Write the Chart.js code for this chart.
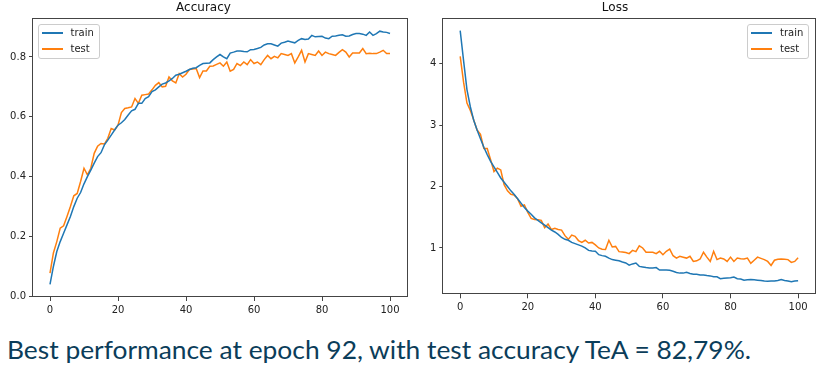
<!DOCTYPE html>
<html>
<head>
<meta charset="utf-8">
<script src="https://cdn.jsdelivr.net/npm/chart.js@4.4.0/dist/chart.umd.min.js"></script>
<style>
body { margin: 0; background: #fff; width: 830px; height: 370px; position: relative; overflow: hidden; }
.plot { position: absolute; top: 0; }
.legend { position: absolute; box-sizing: border-box; border: 1px solid #ccc; border-radius: 3px;
  background: rgba(255,255,255,0.8); font: 10px "DejaVu Sans"; color: #222; padding: 0 0 2px 3px; }
.legend div { height: 16px; line-height: 16px; white-space: nowrap; }
.legend span.swatch { display: inline-block; width: 21px; height: 1.5px; vertical-align: middle; margin-right: 8px; }
#caption { position: absolute; left: 7px; top: 337px; font: 25px Lato; line-height: 25px; color: #0b3d5a;
  white-space: nowrap; transform-origin: 0 0; }
</style>
</head>
<body>
<canvas id="accChart" class="plot" width="412" height="320" style="left:0"></canvas>
<canvas id="lossChart" class="plot" width="415" height="318" style="left:415px"></canvas>
<span id="caption">Best performance at epoch 92, with test accuracy TeA = 82,79%.</span>
<script>
var seriesNames = ['train', 'test'];
var seriesColors = ['#1f77b4', '#ff7f0e'];

var accTrain = [0.04, 0.10, 0.15, 0.183, 0.211, 0.239, 0.267, 0.30, 0.328, 0.347,
  0.376, 0.40, 0.422, 0.445, 0.467, 0.48, 0.506, 0.522, 0.539, 0.556,
  0.572, 0.58, 0.591, 0.606, 0.62, 0.625, 0.645, 0.645, 0.661, 0.667,
  0.684, 0.69, 0.70, 0.709, 0.713, 0.72, 0.728, 0.739, 0.742, 0.747,
  0.752, 0.758, 0.762, 0.764, 0.772, 0.778, 0.779, 0.780, 0.791, 0.80,
  0.808, 0.80, 0.794, 0.813, 0.816, 0.820, 0.820, 0.818, 0.817, 0.824,
  0.825, 0.828, 0.832, 0.840, 0.844, 0.844, 0.840, 0.836, 0.846, 0.849,
  0.853, 0.850, 0.847, 0.855, 0.861, 0.858, 0.860, 0.872, 0.867, 0.868,
  0.869, 0.863, 0.861, 0.869, 0.870, 0.872, 0.874, 0.869, 0.870, 0.875,
  0.878, 0.878, 0.876, 0.872, 0.883, 0.872, 0.878, 0.886, 0.883, 0.882,
  0.878];
var accTest = [0.078, 0.145, 0.183, 0.228, 0.236, 0.267, 0.30, 0.336, 0.344, 0.384,
  0.428, 0.406, 0.428, 0.478, 0.502, 0.511, 0.509, 0.528, 0.561, 0.556,
  0.572, 0.614, 0.628, 0.630, 0.633, 0.661, 0.645, 0.672, 0.674, 0.676,
  0.69, 0.705, 0.714, 0.700, 0.702, 0.733, 0.720, 0.713, 0.744, 0.733,
  0.742, 0.758, 0.760, 0.761, 0.731, 0.753, 0.753, 0.769, 0.770, 0.775,
  0.780, 0.769, 0.783, 0.752, 0.758, 0.778, 0.771, 0.783, 0.774, 0.791,
  0.778, 0.783, 0.774, 0.791, 0.805, 0.794, 0.802, 0.797, 0.811, 0.808,
  0.805, 0.811, 0.780, 0.800, 0.822, 0.783, 0.811, 0.808, 0.805, 0.820,
  0.805, 0.816, 0.811, 0.808, 0.805, 0.815, 0.824, 0.816, 0.800, 0.813,
  0.813, 0.813, 0.828, 0.811, 0.812, 0.811, 0.811, 0.816, 0.822, 0.811,
  0.811];
var lossTrain = [4.54, 4.05, 3.58, 3.30, 3.08, 2.92, 2.78, 2.64, 2.52, 2.41,
  2.32, 2.23, 2.14, 2.07, 2.00, 1.93, 1.87, 1.80, 1.73, 1.66,
  1.60, 1.55, 1.49, 1.45, 1.41, 1.37, 1.33, 1.29, 1.26, 1.22,
  1.17, 1.14, 1.125, 1.09, 1.07, 1.05, 1.03, 1.00, 0.96, 0.95,
  0.945, 0.89, 0.875, 0.865, 0.835, 0.81, 0.80, 0.79, 0.77, 0.755,
  0.72, 0.74, 0.755, 0.70, 0.69, 0.68, 0.675, 0.675, 0.68, 0.64,
  0.64, 0.64, 0.635, 0.62, 0.60, 0.59, 0.59, 0.605, 0.585, 0.57,
  0.57, 0.56, 0.56, 0.55, 0.545, 0.53, 0.53, 0.50, 0.505, 0.51,
  0.515, 0.525, 0.50, 0.495, 0.475, 0.48, 0.485, 0.48, 0.475, 0.47,
  0.46, 0.458, 0.46, 0.46, 0.47, 0.485, 0.47, 0.46, 0.45, 0.46,
  0.465];
var lossTest = [4.12, 3.70, 3.36, 3.24, 3.085, 2.92, 2.85, 2.62, 2.62, 2.435,
  2.245, 2.30, 2.27, 2.03, 1.93, 1.875, 1.86, 1.80, 1.68, 1.70,
  1.58, 1.48, 1.465, 1.46, 1.45, 1.33, 1.39, 1.30, 1.32, 1.30,
  1.29, 1.20, 1.14, 1.21, 1.19, 1.12, 1.09, 1.125, 1.08, 1.09,
  1.05, 1.00, 0.98, 0.975, 1.125, 1.015, 1.025, 0.94, 0.935, 0.925,
  0.907, 0.96, 0.94, 1.035, 1.00, 0.93, 0.93, 0.93, 0.907, 0.945,
  0.89, 0.945, 0.98, 0.873, 0.835, 0.865, 0.85, 0.835, 0.865, 0.78,
  0.79, 0.82, 0.93, 0.85, 0.78, 0.945, 0.81, 0.835, 0.82, 0.78,
  0.85, 0.78, 0.835, 0.825, 0.82, 0.835, 0.75, 0.80, 0.85, 0.83,
  0.81, 0.78, 0.715, 0.80, 0.815, 0.82, 0.815, 0.81, 0.765, 0.78,
  0.84];

var epochs = accTrain.map(function(v, i) { return i; });
var xTicks = [0, 20, 40, 60, 80, 100];
var accTicks = [0.0, 0.2, 0.4, 0.6, 0.8];
var lossTicks = [1, 2, 3, 4];

Chart.defaults.font.family = "'DejaVu Sans'";
Chart.defaults.font.size = 10;
Chart.defaults.color = '#222';

// matplotlib style box around the plot area
var framePlugin = {
  id: 'frame',
  afterDraw: function(chart) {
    var a = chart.chartArea, c = chart.ctx;
    c.save();
    c.strokeStyle = '#444';
    c.lineWidth = 1;
    c.strokeRect(Math.round(a.left) - 0.5, Math.round(a.top) + 0.5,
      Math.round(a.right - a.left) + 1, Math.round(a.bottom - a.top) - 1);
    c.restore();
  }
};

function makeChart(id, title, train, test, yMin, yMax, yTicks, yDecimals, yWidth, xHeight, padRight) {
  var fixTicks = function(list) {
    return function(scale) { scale.ticks = list.map(function(v) { return { value: v }; }); };
  };
  return new Chart(document.getElementById(id), {
    type: 'line',
    data: {
      labels: epochs,
      datasets: [train, test].map(function(d, k) {
        return { label: seriesNames[k], data: d, borderColor: seriesColors[k], backgroundColor: seriesColors[k],
          borderWidth: 1.5, pointRadius: 0, tension: 0, fill: false };
      })
    },
    options: {
      responsive: false,
      animation: false,
      layout: { padding: { top: 0, left: 0, right: padRight, bottom: 0 } },
      plugins: {
        legend: { display: false },
        tooltip: { enabled: false },
        title: { display: true, text: title, color: '#111',
          font: { size: 12, weight: 'normal' }, padding: { top: 1, bottom: 2.6 } }
      },
      scales: {
        x: {
          type: 'linear', min: -5, max: 105,
          afterBuildTicks: fixTicks(xTicks),
          afterFit: function(s) { s.height = xHeight; },
          grid: { drawOnChartArea: false, tickLength: 4, tickColor: '#444' },
          border: { display: false },
          ticks: { padding: 3, maxRotation: 0 }
        },
        y: {
          min: yMin, max: yMax,
          afterBuildTicks: fixTicks(yTicks),
          afterFit: function(s) { s.width = yWidth; },
          grid: { drawOnChartArea: false, tickLength: 4, tickColor: '#444' },
          border: { display: false },
          ticks: { padding: 3, callback: function(v) { return Number(v).toFixed(yDecimals); } }
        }
      }
    },
    plugins: [framePlugin]
  });
}

function addLegend(chart, canvasLeft, alignRight) {
  var a = chart.chartArea;
  var box = document.createElement('div');
  box.className = 'legend';
  box.style.width = '62px';
  box.style.height = '35px';
  box.style.top = (a.top + 6) + 'px';
  box.style.left = (alignRight ? canvasLeft + a.right - 6 - 62 : canvasLeft + a.left + 4.5) + 'px';
  chart.data.datasets.forEach(function(ds) {
    var row = document.createElement('div');
    var sw = document.createElement('span');
    sw.className = 'swatch';
    sw.style.background = ds.borderColor;
    row.appendChild(sw);
    row.appendChild(document.createTextNode(ds.label));
    box.appendChild(row);
  });
  document.body.appendChild(box);
}

var accChart = makeChart('accChart', 'Accuracy', accTrain, accTest, -0.002, 0.93, accTicks, 1, 33, 23, 5);
var lossChart = makeChart('lossChart', 'Loss', lossTrain, lossTest, 0.245, 4.745, lossTicks, 0, 28.3, 23.7, 15);
addLegend(accChart, 0, false);
addLegend(lossChart, 415, true);

// squeeze the caption to the width it has in the picture
var cap = document.getElementById('caption');
cap.style.transform = 'scaleX(' + (744 / cap.getBoundingClientRect().width) + ')';
</script>
</body>
</html>
